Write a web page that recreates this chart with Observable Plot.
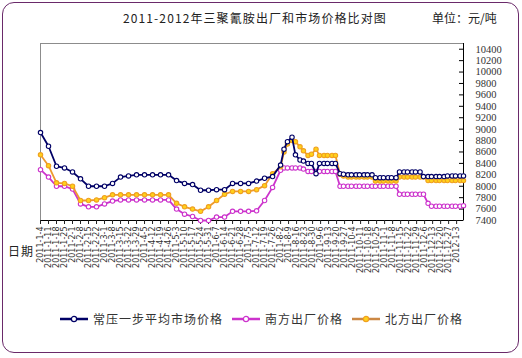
<!DOCTYPE html>
<html><head><meta charset="utf-8">
<script src="https://cdn.jsdelivr.net/npm/d3@7"></script>
<script src="https://cdn.jsdelivr.net/npm/@observablehq/plot@0.6"></script>
<style>
body{margin:0;background:#fff;}
#wrap{position:relative;width:522px;height:358px;font-family:"Noto Sans CJK SC",sans-serif;color:#222;}
#border{position:absolute;left:2px;top:2px;width:517px;height:351px;border:1px solid #6a2a6a;border-radius:12px;box-sizing:border-box;pointer-events:none;}
#chart{position:absolute;left:0;top:0;}
#title{position:absolute;left:0;width:510px;top:10px;text-align:center;font-size:12px;letter-spacing:1.1px;line-height:16px;}
#unit{position:absolute;left:432px;top:10px;font-size:12px;line-height:16px;}
#xl{position:absolute;left:8px;top:243px;font-size:12px;line-height:16px;letter-spacing:1px;}
#legend{position:absolute;left:0;width:522px;top:310px;display:flex;justify-content:center;align-items:center;font-size:12px;letter-spacing:1px;color:#333;}
#legend .it{display:flex;align-items:center;margin:0 4px;}
#legend svg{margin-right:4px;}
</style></head>
<body>
<div id="wrap">
<div id="chart"></div>
<div id="title">2011-2012年三聚氰胺出厂和市场价格比对图</div>
<div id="unit">单位：元/吨</div>
<div id="xl">日期</div>
<div id="legend"></div>
<div id="border"></div>
</div>
<script>
const dates = [
"2011-01-04","2011-01-11","2011-01-18","2011-01-25","2011-02-01","2011-02-08","2011-02-15","2011-02-22","2011-03-01","2011-03-08",
"2011-03-15","2011-03-22","2011-03-29","2011-04-05","2011-04-12","2011-04-19","2011-04-26","2011-05-03","2011-05-10","2011-05-17",
"2011-05-24","2011-05-31","2011-06-07","2011-06-14","2011-06-21","2011-06-28","2011-07-05","2011-07-12","2011-07-19","2011-07-26",
"2011-08-02",
"2011-08-05","2011-08-08","2011-08-12","2011-08-15","2011-08-19","2011-08-22","2011-08-26","2011-08-29","2011-09-02","2011-09-05",
"2011-09-09","2011-09-12","2011-09-16","2011-09-19","2011-09-23","2011-09-26","2011-09-30","2011-10-03","2011-10-07","2011-10-10",
"2011-10-14","2011-10-17","2011-10-21","2011-10-24","2011-10-28","2011-10-31","2011-11-04","2011-11-07","2011-11-11","2011-11-14",
"2011-11-18","2011-11-21","2011-11-25","2011-11-28","2011-12-02","2011-12-05","2011-12-09","2011-12-12","2011-12-16","2011-12-19",
"2011-12-23","2011-12-26","2011-12-30","2012-01-02","2012-01-06","2012-01-09"];

// 常压一步平均市场价格
const market = [
8940,8700,8350,8320,8250,8130,8000,8000,8000,8050,8160,8180,8200,8200,8200,8200,8200,8100,8050,8030,
7930,7930,7940,7940,8050,8050,8050,8090,8140,8170,8370,
8650,8780,8860,8550,8460,8440,8400,8400,8220,8400,8400,8400,8400,8400,
8220,8210,8200,8200,8200,8200,8200,8200,8200,
8150,8150,8150,8150,8150,8150,
8250,8250,8250,8250,8250,8250,
8170,8170,8170,8170,8170,8170,
8180,8180,8180,8180,8180];

// 南方出厂价格
const south = [
8290,8160,8000,8000,7950,7690,7640,7640,7690,7740,7760,7760,7760,7760,7760,7760,7760,7600,7510,7470,
7400,7400,7460,7460,7560,7560,7560,7570,7750,7980,8280,
8320,8320,8320,8320,8320,8300,8260,8260,8260,8260,8260,8260,8260,8260,
8000,8000,8000,8000,8000,8000,8000,8000,8000,8000,8000,8000,8000,8000,8000,
7860,7860,7860,7860,7860,7860,7860,
7700,7650,7650,7650,7650,7650,7650,7650,7650,7660];

// 北方出厂价格
const north = [
8550,8360,8060,8050,8000,7750,7750,7760,7800,7850,7850,7850,7850,7850,7850,7850,7850,7700,7640,7600,
7560,7640,7750,7860,7910,7910,7910,7940,8010,8220,8340,
8600,8740,8800,8780,8690,8620,8540,8560,8650,8540,8540,8540,8540,8540,
8210,8180,8160,8160,8160,8160,8160,8160,8160,
8090,8090,8090,8090,8090,8090,
8160,8160,8160,8160,8160,8160,8160,
8100,8100,8100,8100,8100,8100,8100,8100,8100,8100];

const seriesNames = ["常压一步平均市场价格","南方出厂价格","北方出厂价格"];
const yTicks = [7400,7600,7800,8000,8200,8400,8600,8800,9000,9200,9400,9600,9800,10000,10200,10400];
const yDomain = [7400,10500];
const xStart = "2011-01-04", xEnd = "2012-01-09";

const parse = d3.utcParse("%Y-%m-%d");
const rows = dates.map((d,i)=>({date:parse(d), market:market[i], south:south[i], north:north[i]}));
const xTicks = d3.utcTuesday.range(parse(xStart), d3.utcDay.offset(parse(xEnd),1));
const fmt = d => `${d.getUTCFullYear()}-${d.getUTCMonth()+1}-${d.getUTCDate()}`;

const C = {market:"#000066", south:"#CC33CC", northLine:"#EE9A2E", northFill:"#FFD21A", northStroke:"#F0A020"};

const chart = Plot.plot({
  width:522, height:358,
  marginLeft:40, marginRight:59, marginTop:43, marginBottom:138,
  style:{background:"transparent", overflow:"visible"},
  x:{type:"utc", domain:[parse(xStart), parse(xEnd)]},
  y:{domain:yDomain},
  marks:[
    Plot.frame({stroke:"#8c8c8c"}),
    Plot.ruleY([yDomain[0]], {stroke:"#000"}),
    Plot.ruleX([parse(xEnd)], {stroke:"#000"}),
    Plot.tickY(yTicks, {y:d=>d, insetLeft:419, stroke:"#000"}),
    Plot.axisY({anchor:"right", ticks:yTicks, tickSize:0, tickPadding:12, label:null,
      fontSize:10.5, fontFamily:"Liberation Serif", fill:"#333", tickFormat:d=>String(d)}),
    Plot.axisX({ticks:xTicks, tickFormat:fmt, tickRotate:-90, tickSize:4, tickPadding:2,
      label:null, fontSize:8, fontFamily:"DejaVu Sans", fill:"#333"}),
    Plot.line(rows, {x:"date", y:"south", stroke:C.south, strokeWidth:1.8}),
    Plot.dot(rows, {x:"date", y:"south", r:2.2, fill:"white", stroke:C.south, strokeWidth:1.1}),
    Plot.line(rows, {x:"date", y:"north", stroke:C.northLine, strokeWidth:1.8}),
    Plot.dot(rows, {x:"date", y:"north", r:2.2, fill:C.northFill, stroke:C.northStroke, strokeWidth:1.1}),
    Plot.line(rows, {x:"date", y:"market", stroke:C.market, strokeWidth:1.8}),
    Plot.dot(rows, {x:"date", y:"market", r:2.2, fill:"white", stroke:C.market, strokeWidth:1.1})
  ]
});
document.getElementById("chart").appendChild(chart);

const sw = [[C.market,"white",C.market],[C.south,"white",C.south],["#CC8844",C.northFill,C.northStroke]];
const leg = document.getElementById("legend");
seriesNames.forEach((n,i)=>{
  const [line, fill, stroke] = sw[i];
  const it = document.createElement("div"); it.className="it";
  it.innerHTML = `<svg width="30" height="10"><line x1="1" x2="29" y1="5" y2="5" stroke="${line}" stroke-width="2.5"/><circle cx="15" cy="5" r="2.6" fill="${fill}" stroke="${stroke}" stroke-width="1.2"/></svg><span>${n}</span>`;
  leg.appendChild(it);
});
</script>
</body></html>
